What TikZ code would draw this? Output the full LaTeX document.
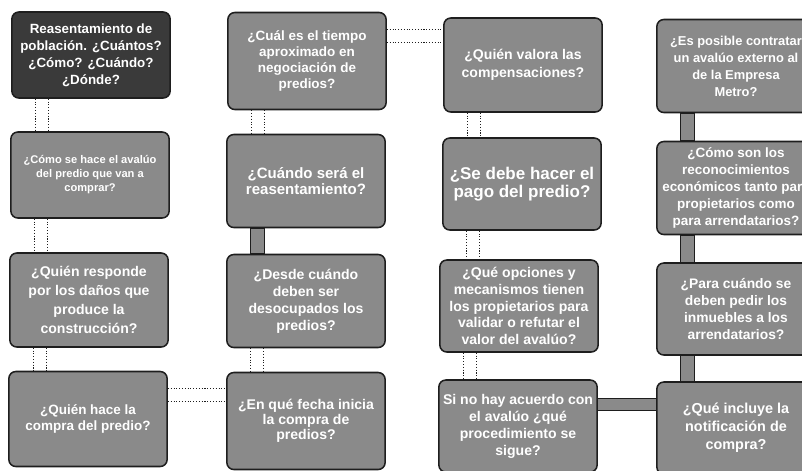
\documentclass[tikz,border=0pt]{standalone}
\usepackage{fontspec}
\setsansfont{Liberation Sans}
\usetikzlibrary{calc}
\definecolor{slate}{HTML}{8A8A8A}
\definecolor{coal}{HTML}{3A3A3A}
\definecolor{ink}{HTML}{1E1E1E}
\newcommand{\qf}[2]{\sffamily\bfseries\fontsize{#1}{#2}\selectfont}
\tikzset{
  qbox/.style={draw=ink,fill=slate,line width=1.3pt,rounded corners=6pt,align=center,text=white,
    minimum width=4.75cm,minimum height=#1,inner sep=2pt},
  qbox/.default=2.8cm,
  dotlink/.style={draw=ink,line width=0.9pt,dash pattern=on 0.9pt off 1.5pt},
  blocklink/.style={draw=ink,fill=slate,line width=0.8pt},
}
\begin{document}
\begin{tikzpicture}[x=0.03cm,y=-0.03cm]
  \useasboundingbox (0,0) rectangle (802,471);
  \clip (0,0) rectangle (802,471);
  % column 1
  \node[qbox=2.58cm,fill=coal,font=\qf{11.4}{14.5}] (reas) at (91,55) {Reasentamiento de\\ población. ¿Cuántos?\\ ¿Cómo? ¿Cuándo?\\ ¿Dónde?};
  \node[qbox=2.58cm,font=\qf{9.5}{12}] (avaluo) at (90,175) {¿Cómo se hace el avalúo\\ del predio que van a\\ comprar?};
  \node[qbox=2.82cm,font=\qf{12}{16}] (danos) at (89,300) {¿Quién responde\\ por los daños que\\ produce la\\ construcción?};
  \node[qbox=2.85cm,font=\qf{11.5}{13.6}] (compra) at (88,419) {¿Quién hace la\\ compra del predio?};
  % column 2
  \node[qbox=2.91cm,font=\qf{11.5}{13.6}] (tiempo) at (307,61) {¿Cuál es el tiempo\\ aproximado en\\ negociación de\\ predios?};
  \node[qbox=2.79cm,font=\qf{12.8}{13.5}] (cuando) at (306,181) {¿Cuándo será el\\ reasentamiento?};
  \node[qbox=2.79cm,font=\qf{12}{14.5}] (desoc) at (306,301) {¿Desde cuándo\\ deben ser\\ desocupados los\\ predios?};
  \node[qbox=2.91cm,font=\qf{12}{13}] (fecha) at (306,421) {¿En qué fecha inicia\\ la compra de\\ predios?};
  % column 3
  \node[qbox=2.82cm,font=\qf{12}{15.3}] (valora) at (523,65) {¿Quién valora las\\ compensaciones?};
  \node[qbox=2.76cm,font=\qf{14.5}{15.5}] (pago) at (522,184) {¿Se debe hacer el\\ pago del predio?};
  \node[qbox=2.76cm,font=\qf{12}{14.2}] (opciones) at (519,306) {¿Qué opciones y\\ mecanismos tienen\\ los propietarios para\\ validar o refutar el\\ valor del avalúo?};
  \node[qbox=2.76cm,font=\qf{12}{14.5}] (acuerdo) at (518,426) {Si no hay acuerdo con\\ el avalúo ¿qué\\ procedimiento se\\ sigue?};
  % column 4
  \node[qbox=2.79cm,font=\qf{11}{14.5}] (externo) at (736,66) {¿Es posible contratar\\ un avalúo externo al\\ de la Empresa\\ Metro?};
  \node[qbox=2.79cm,font=\qf{11.5}{14.5}] (reconoc) at (736,188) {¿Cómo son los\\ reconocimientos\\ económicos tanto para\\ propietarios como\\ para arrendatarios?};
  \node[qbox=2.76cm,font=\qf{11.8}{14.5}] (pedir) at (736,309) {¿Para cuándo se\\ deben pedir los\\ inmuebles a los\\ arrendatarios?};
  \node[qbox=2.76cm,font=\qf{12.3}{15.3}] (notif) at (736,428) {¿Qué incluye la\\ notificación de\\ compra?};
  % connectors
  \foreach \a/\b in {reas/avaluo,avaluo/danos,danos/compra,tiempo/cuando,desoc/fecha,valora/pago,pago/opciones,opciones/acuerdo}
    \foreach \dx in {24,37}
      \draw[dotlink] ($(\a.south west)+(\dx,0)$) -- ($(\a.south west |- \b.north)+(\dx,0)$);
  \foreach \a/\b in {compra/fecha,tiempo/valora}
    \foreach \dy in {18,31}
      \draw[dotlink] ($(\a.north east)+(0,\dy)$) -- ($(\b.west |- \a.north east)+(0,\dy)$);
  \foreach \a/\b in {cuando/desoc,externo/reconoc,reconoc/pedir,pedir/notif}
    \filldraw[blocklink] ($(\a.south west)+(24,0)$) rectangle ($(\a.south west |- \b.north)+(38,0)$);
  \filldraw[blocklink] ($(acuerdo.north east)+(0,19)$) rectangle ($(notif.west |- acuerdo.north east)+(0,31)$);
\end{tikzpicture}
\end{document}
